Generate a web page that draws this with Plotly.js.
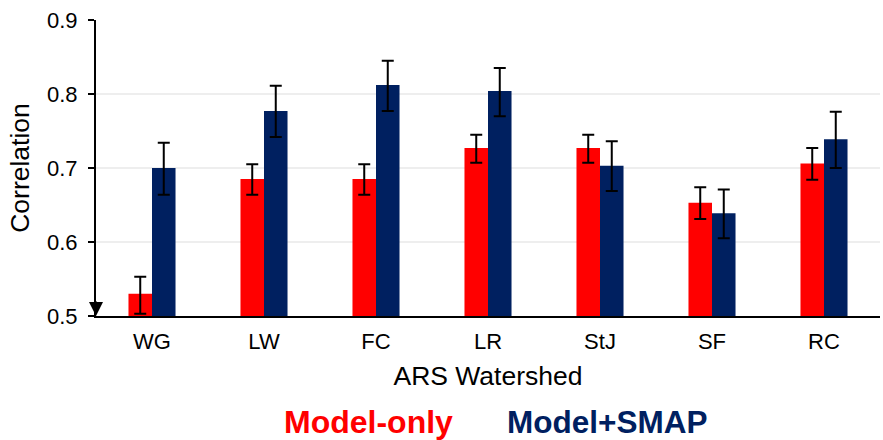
<!DOCTYPE html>
<html>
<head>
<meta charset="utf-8">
<script src="https://cdn.plot.ly/plotly-3.0.1.min.js"></script>
<style>html,body{margin:0;padding:0;background:#fff;}#chart{width:883px;height:440px;}</style>
</head>
<body>
<div id="chart"></div>
<script>
const categories = ["WG", "LW", "FC", "LR", "StJ", "SF", "RC"];
const modelOnly = [0.530, 0.685, 0.685, 0.727, 0.727, 0.653, 0.706];
const modelOnlyErrPlus = [0.023, 0.020, 0.020, 0.018, 0.018, 0.021, 0.021];
const modelOnlyErrMinus = [0.027, 0.021, 0.021, 0.020, 0.020, 0.022, 0.022];
const modelSmap = [0.700, 0.777, 0.812, 0.804, 0.703, 0.639, 0.739];
const modelSmapErrPlus = [0.034, 0.034, 0.033, 0.031, 0.033, 0.032, 0.037];
const modelSmapErrMinus = [0.036, 0.035, 0.035, 0.034, 0.034, 0.034, 0.039];
const yTicks = [0.5, 0.6, 0.7, 0.8, 0.9];
const yTickLabels = ["0.5", "0.6", "0.7", "0.8", "0.9"];
const seriesNames = ["Model-only", "Model+SMAP"];
const RED = "#ff0000", NAVY = "#002060";

const errStyle = {color: "#000", thickness: 2, width: 6};
const traces = [
  {type: "bar", name: seriesNames[0], x: categories, y: modelOnly, marker: {color: RED, line: {width: 0}},
   error_y: Object.assign({type: "data", array: modelOnlyErrPlus, arrayminus: modelOnlyErrMinus, symmetric: false, visible: true}, errStyle),
   showlegend: false, hoverinfo: "x+y"},
  {type: "bar", name: seriesNames[1], x: categories, y: modelSmap, marker: {color: NAVY, line: {width: 0}},
   error_y: Object.assign({type: "data", array: modelSmapErrPlus, arrayminus: modelSmapErrMinus, symmetric: false, visible: true}, errStyle),
   showlegend: false, hoverinfo: "x+y"}
];

const font = "Liberation Sans, Arial, Helvetica, sans-serif";
const layout = {
  width: 883, height: 440,
  margin: {l: 96, r: 3, t: 20, b: 124},
  paper_bgcolor: "#fff", plot_bgcolor: "#fff",
  barmode: "group", bargap: 0.58, bargroupgap: 0,
  font: {family: font, color: "#000"},
  xaxis: {
    type: "category",
    showline: true, linecolor: "#000", linewidth: 2,
    ticks: "", showgrid: false,
    tickfont: {size: 22, family: font, color: "#000"},
    ticklabelstandoff: 5,
    title: {text: "ARS Watershed", font: {size: 26.5, family: font, color: "#000"}, standoff: 13}
  },
  yaxis: {
    range: [0.5, 0.9],
    tickvals: yTicks, ticktext: yTickLabels,
    showline: true, linecolor: "#000", linewidth: 2,
    ticks: "outside", ticklen: 6, tickwidth: 1.5, tickcolor: "#000",
    showgrid: true, gridcolor: "#eeeeee", gridwidth: 1.5,
    zeroline: false,
    tickfont: {size: 22, family: font, color: "#000"},
    ticklabelstandoff: 6,
    title: {text: "Correlation", font: {size: 26.5, family: font, color: "#000"}, standoff: 10}
  },
  annotations: [
    {xref: "paper", yref: "y", x: 0, y: 0.5, ax: 0, ay: -16, showarrow: true, arrowhead: 2, arrowsize: 1.4, arrowwidth: 2, arrowcolor: "#000", text: ""},
    {xref: "paper", yref: "paper", x: 0.3476, y: -0.358, xanchor: "center", yanchor: "middle", showarrow: false,
     text: "<b>" + seriesNames[0] + "</b>", font: {size: 32, family: font, color: RED}},
    {xref: "paper", yref: "paper", x: 0.6518, y: -0.358, xanchor: "center", yanchor: "middle", showarrow: false,
     text: "<b>" + seriesNames[1] + "</b>", font: {size: 31.5, family: font, color: NAVY}}
  ]
};

Plotly.newPlot("chart", traces, layout, {displayModeBar: false, staticPlot: true});
</script>
</body>
</html>
